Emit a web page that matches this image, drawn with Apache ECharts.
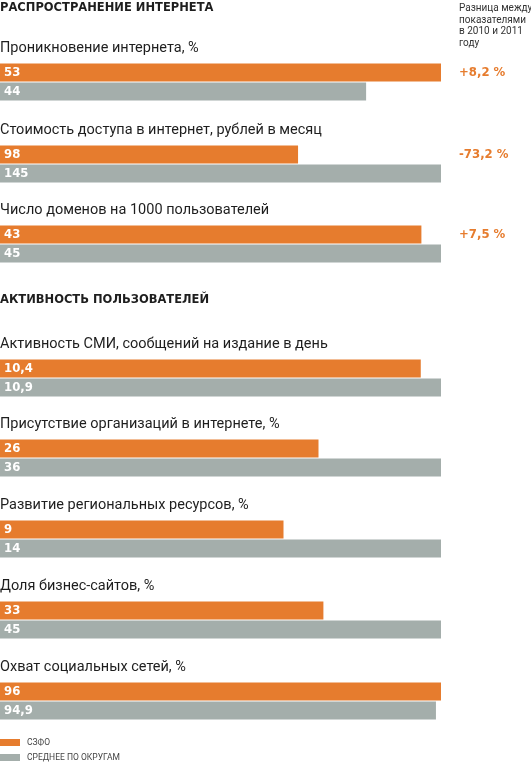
<!DOCTYPE html>
<html lang="ru">
<head>
    <meta charset="UTF-8">
    <title>Распространение интернета</title>
    <style>
        html, body { margin: 0; padding: 0; background: #fff; }
    </style>
</head>
<body>
<div id="main" style="width: 531px;height:765px;"></div>
<script src="https://cdn.jsdelivr.net/npm/echarts@6/dist/echarts.min.js"></script>
<script>
    // данные
    var groupNames = [
        'Проникновение интернета, %',
        'Стоимость доступа в интернет, рублей в месяц',
        'Число доменов на 1000 пользователей',
        'Активность СМИ, сообщений на издание в день',
        'Присутствие организаций в интернете, %',
        'Развитие региональных ресурсов, %',
        'Доля бизнес-сайтов, %',
        'Охват социальных сетей, %'
    ];
    var sfoValues = [53, 98, 43, 10.4, 26, 9, 33, 96];
    var avgValues = [44, 145, 45, 10.9, 36, 14, 45, 94.9];
    var changeLabels = ['+8,2 %', '-73,2 %', '+7,5 %'];
    var seriesNames = ['СЗФО', 'СРЕДНЕЕ ПО ОКРУГАМ'];
    var sectionTitles = ['РАСПРОСТРАНЕНИЕ ИНТЕРНЕТА', 'АКТИВНОСТЬ ПОЛЬЗОВАТЕЛЕЙ'];
</script>
<script>
    var ORANGE = '#e67c2e';
    var GRAY = '#a4aeab';
    var barTops = [63, 145, 225, 359, 439, 520, 601, 682];   // верх каждой группы

    var grids = [], xAxes = [], yAxes = [], series = [], titles = [];

    function fmt(v) {
        return String(v).replace('.', ',');
    }

    function makeLabel() {
        return {
            show: true,
            position: 'insideLeft',
            distance: 4,
            color: '#fff',
            fontFamily: 'DejaVu Sans Condensed',
            fontWeight: 'bold',
            fontSize: 13,
            formatter: function (p) { return fmt(p.value); }
        };
    }

    var sectionStyle = {fontFamily: 'DejaVu Sans', fontWeight: 'bold', fontSize: 11.5, color: '#1e1e1e'};
    titles.push({text: sectionTitles[0], left: 0, top: 2, padding: 0, textStyle: sectionStyle});
    titles.push({text: sectionTitles[1], left: 0, top: 294, padding: 0, textStyle: sectionStyle});
    titles.push({
        text: 'Разница между\nпоказателями\nв 2010 и 2011\nгоду', left: 459, top: 3, padding: 0,
        textStyle: {fontFamily: 'Roboto', fontWeight: 'normal', fontSize: 10, lineHeight: 11.5, color: '#333'}
    });

    for (var i = 0; i < groupNames.length; i++) {
        var gTop = barTops[i];
        grids.push({left: 0, top: gTop, width: 441, height: 38});
        xAxes.push({
            type: 'value', gridIndex: i, min: 0,
            max: Math.max(sfoValues[i], avgValues[i]),
            show: false
        });
        yAxes.push({
            type: 'category', gridIndex: i, inverse: true,
            data: seriesNames, show: false
        });
        series.push({
            name: seriesNames[0], type: 'bar', xAxisIndex: i, yAxisIndex: i,
            barWidth: 18, barGap: '-100%', silent: true,
            itemStyle: {color: ORANGE},
            label: makeLabel(),
            data: [sfoValues[i], '-']
        });
        series.push({
            name: seriesNames[1], type: 'bar', xAxisIndex: i, yAxisIndex: i,
            barWidth: 18, barGap: '-100%', silent: true,
            itemStyle: {color: GRAY},
            label: makeLabel(),
            data: ['-', avgValues[i]]
        });
        titles.push({
            text: groupNames[i], left: 0, top: gTop - 22, padding: 0,
            textStyle: {fontFamily: 'Roboto', fontWeight: 'normal', fontSize: 14.5, color: '#1e1e1e'}
        });
        if (i < changeLabels.length) {
            titles.push({
                text: changeLabels[i], left: 459, top: gTop + 3, padding: 0,
                textStyle: {fontFamily: 'DejaVu Sans Condensed', fontWeight: 'bold', fontSize: 13, color: ORANGE}
            });
        }
    }

    var myChart = echarts.init(document.getElementById('main'));
    var option = {
        animation: false,
        title: titles,
        legend: {
            orient: 'vertical',
            left: 0, top: 738,
            padding: 0,
            itemWidth: 20, itemHeight: 7, itemGap: 6,
            icon: 'rect',
            selectedMode: false,
            textStyle: {fontFamily: 'Roboto', fontSize: 8.5, color: '#444', padding: [0, 0, 0, 2]},
            data: seriesNames
        },
        grid: grids,
        xAxis: xAxes,
        yAxis: yAxes,
        series: series
    };
    myChart.setOption(option);
</script>
</body>
</html>
